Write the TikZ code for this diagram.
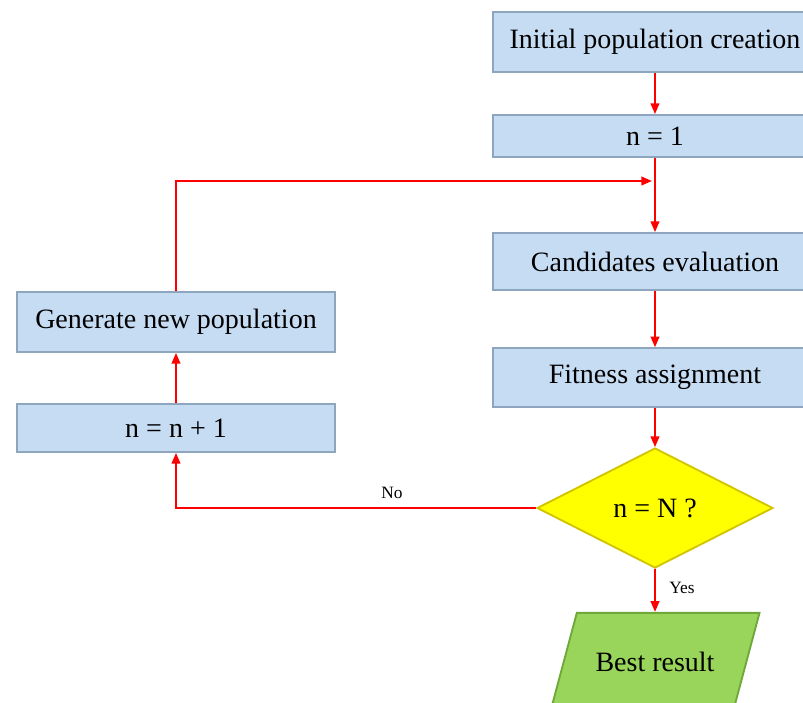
\documentclass[tikz,border=0pt]{standalone}
\usepackage{fontspec}
\setmainfont{Liberation Serif}
\usetikzlibrary{shapes.geometric,arrows.meta}
\definecolor{boxblue}{HTML}{C6DCF3}
\definecolor{boxedge}{HTML}{8DA5BE}
\definecolor{decyellow}{HTML}{FFFF00}
\definecolor{decedge}{HTML}{D2C400}
\definecolor{resgreen}{HTML}{98D55A}
\definecolor{resedge}{HTML}{6FA83A}

\begin{document}
\begin{tikzpicture}[x=0.75pt, y=-0.75pt, font=\fontsize{21}{24}\selectfont,
  stepbox/.style={draw=boxedge, line width=1.4pt, fill=boxblue, minimum width=243pt, inner sep=0pt},
  flow/.style={red, line width=1.3pt, -{Triangle[length=8pt,width=6.5pt]}},
  small/.style={font=\fontsize{13}{15}\selectfont}]
\useasboundingbox (0,0) rectangle (803,703);
\clip (0,0) rectangle (803,703);
% right column
\node[stepbox, minimum height=45pt] (init) at (655,42) {Initial population creation};
\node[stepbox, minimum height=31.5pt] (n1) at (655,136) {n = 1};
\node[stepbox, minimum height=42.75pt] (eval) at (655,261.5) {Candidates evaluation};
\node[stepbox, minimum height=44pt] (fit) at (655,377.5) {Fitness assignment};
\node[diamond, draw=decedge, line width=1.4pt, fill=decyellow, minimum width=177pt, minimum height=90pt, inner sep=0pt] (check) at (655,508) {n = N ?};
\node[trapezium, trapezium left angle=75, trapezium right angle=105, draw=resedge, line width=1.4pt, fill=resgreen, inner xsep=14pt, inner ysep=29.5pt] (best) at (655,662) {Best result};
% left column
\node[stepbox, minimum width=238.5pt, minimum height=45pt] (gen) at (176,322) {Generate new population};
\node[stepbox, minimum width=238.5pt, minimum height=36pt] (inc) at (176,428) {n = n + 1};
\coordinate (join) at (652,181);
% connectors
\draw[flow] (init) -- (n1);
\draw[flow] (n1) -- (eval);
\draw[flow] (eval) -- (fit);
\draw[flow] (fit) -- (check);
\draw[flow] (check) -- (best);
\draw[flow] (check.west) -| (inc.south);
\draw[flow] (inc) -- (gen);
\draw[flow] (gen.north) |- (join);
\node[small] (yes) at (682,588) {Yes};
\node[small] (no) at (392,493) {No};
\end{tikzpicture}
\end{document}
